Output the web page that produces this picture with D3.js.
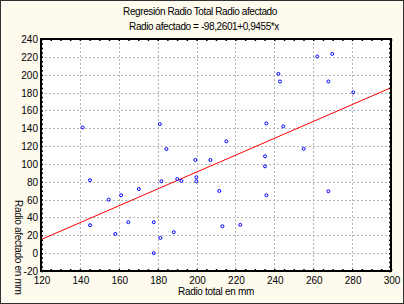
<!DOCTYPE html>
<html>
<head>
<meta charset="utf-8">
<script src="https://cdn.jsdelivr.net/npm/d3@7"></script>
<style>
  body { margin: 0; background: #fefaee; }
  text { font-family: "Liberation Sans", Arial, sans-serif; fill: #000; }
</style>
</head>
<body>
<div id="chart"></div>
<script>
// data
var radioTotal = [141.4, 181.1, 184.5, 199.4, 207.1, 145.2, 181.9, 190.1, 192.2, 199.9,
                  199.9, 211.7, 170.3, 154.8, 161.2, 145.2, 164.9, 178, 158.2, 188.3,
                  181.4, 178, 269.8, 262.1, 242.1, 242.9, 267.8, 280.6, 235.9, 244.6,
                  215.3, 255.1, 235.2, 235.2, 235.9, 267.8, 213.3, 222.5];
var radioAfectado = [140.9, 144.6, 116.7, 104.4, 104.4, 81.7, 80.5, 83.1, 80.9, 85,
                     80.5, 69.7, 71.9, 60, 64.9, 31.3, 34.7, 34.7, 21.6, 23.5,
                     17.1, 0, 223.3, 220.4, 200.9, 192.4, 192.4, 180.1, 145.4, 142.1,
                     125.3, 117, 108.5, 97.3, 64.9, 69.4, 30.2, 31.7];
var xTicks = [120, 140, 160, 180, 200, 220, 240, 260, 280, 300];
var yTicks = [-20, 0, 20, 40, 60, 80, 100, 120, 140, 160, 180, 200, 220, 240];
var intercept = -98.2601, slope = 0.9455;

var W = 404, H = 304;
var margin = { top: 39, left: 41, bottom: 33, right: 13 },
    width = W - margin.left - margin.right,
    height = H - margin.top - margin.bottom;

var svg = d3.select('#chart').append('svg')
    .attr('width', W)
    .attr('height', H);

// outer frame
svg.append('rect')
    .attr('x', 0.5).attr('y', 0.5)
    .attr('width', W - 1).attr('height', H - 1)
    .attr('fill', '#fefaee')
    .attr('stroke', '#303030');

var g = svg.append('g')
    .attr('transform', 'translate(' + margin.left + ',' + margin.top + ')');

var x = d3.scaleLinear().domain([120, 300]).range([0, width]);
var y = d3.scaleLinear().domain([-20, 240]).range([height, 0]);

g.append('rect')
    .attr('width', width)
    .attr('height', height)
    .attr('fill', '#fff');

// grid
g.selectAll('.vgrid')
    .data(xTicks.slice(1, -1))
    .enter().append('line')
    .attr('class', 'vgrid')
    .attr('x1', d => Math.round(x(d)) + 0.5).attr('x2', d => Math.round(x(d)) + 0.5)
    .attr('y1', 0).attr('y2', height)
    .attr('stroke', '#b4b4b4')
    .attr('stroke-dasharray', '2,2');

g.selectAll('.hgrid')
    .data(yTicks.slice(1, -1))
    .enter().append('line')
    .attr('class', 'hgrid')
    .attr('y1', d => Math.round(y(d)) + 0.5).attr('y2', d => Math.round(y(d)) + 0.5)
    .attr('x1', 0).attr('x2', width)
    .attr('stroke', '#b4b4b4')
    .attr('stroke-dasharray', '2,2');

// regression line
g.append('line')
    .attr('x1', x(120)).attr('y1', y(intercept + slope * 120))
    .attr('x2', x(300)).attr('y2', y(intercept + slope * 300))
    .attr('stroke', '#f00')
    .attr('stroke-width', 1);

// points
g.selectAll('.pt')
    .data(radioTotal)
    .enter().append('circle')
    .attr('class', 'pt')
    .attr('cx', (d, i) => x(d))
    .attr('cy', (d, i) => y(radioAfectado[i]))
    .attr('r', 1.5)
    .attr('fill', 'none')
    .attr('stroke', '#00f')
    .attr('stroke-width', 1);

// axes, ticks inside on all four sides
var xMinor = d3.range(120, 301, 5), yMinor = d3.range(-20, 241, 5);

var bottom = g.append('g').attr('transform', 'translate(0,' + height + ')')
    .call(d3.axisBottom(x).tickValues(xMinor).tickSize(-2).tickFormat(''));
var top_ = g.append('g')
    .call(d3.axisTop(x).tickValues(xMinor).tickSize(-2).tickFormat(''));
var left = g.append('g')
    .call(d3.axisLeft(y).tickValues(yMinor).tickSize(-2).tickFormat(''));
var right = g.append('g').attr('transform', 'translate(' + width + ',0)')
    .call(d3.axisRight(y).tickValues(yMinor).tickSize(-2).tickFormat(''));

[bottom, top_, left, right].forEach(a => {
    a.select('.domain').remove();
    a.selectAll('line').attr('stroke', '#000').attr('stroke-width', 1.5);
});

g.append('rect')
    .attr('width', width)
    .attr('height', height)
    .attr('fill', 'none')
    .attr('stroke', '#000')
    .attr('stroke-width', 2);

// tick labels
g.selectAll('.xlab')
    .data(xTicks)
    .enter().append('text')
    .attr('x', d => x(d) + 1)
    .attr('y', height + 13)
    .attr('text-anchor', 'middle')
    .style('font-size', '10px')
    .text(d => d);

g.selectAll('.ylab')
    .data(yTicks)
    .enter().append('text')
    .attr('x', -3)
    .attr('y', d => y(d) + 4)
    .attr('text-anchor', 'end')
    .style('font-size', '10px')
    .text(d => d);

// titles
svg.append('text')
    .attr('x', 200).attr('y', 15)
    .attr('text-anchor', 'middle')
    .style('font-size', '10px')
    .style('letter-spacing', '-0.4px')
    .text('Regresión Radio Total Radio afectado');

svg.append('text')
    .attr('x', 204).attr('y', 30)
    .attr('text-anchor', 'middle')
    .style('font-size', '10px')
    .style('letter-spacing', '-0.4px')
    .text('Radio afectado = -98,2601+0,9455*x');

svg.append('text')
    .attr('x', margin.left + width / 2).attr('y', 295)
    .attr('text-anchor', 'middle')
    .style('font-size', '10px')
    .style('letter-spacing', '-0.3px')
    .text('Radio total en mm');

svg.append('text')
    .attr('transform', 'translate(15,200) rotate(90)')
    .style('font-size', '10px')
    .style('letter-spacing', '-0.3px')
    .text('Radio afectado en mm');
</script>
</body>
</html>
